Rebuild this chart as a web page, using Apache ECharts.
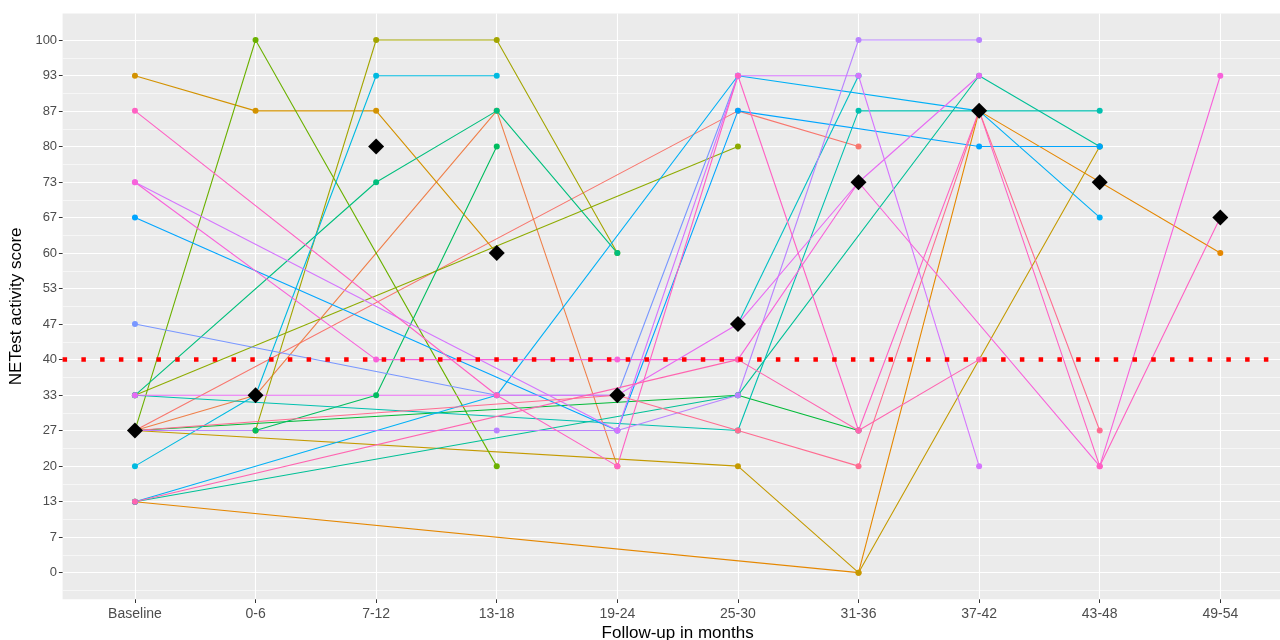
<!DOCTYPE html>
<html>
<head>
<meta charset="utf-8">
<script src="https://cdn.jsdelivr.net/npm/echarts@6/dist/echarts.min.js"></script>
<style>
html,body{margin:0;padding:0;background:#ffffff;}
#chart{width:1280px;height:640px;}
</style>
</head>
<body>
<div id="chart"></div>
<script>
// ---------- data ----------
const categories = ['Baseline','0-6','7-12','13-18','19-24','25-30','31-36','37-42','43-48','49-54'];
const yTickLabels = ['0','7','13','20','27','33','40','47','53','60','67','73','80','87','93','100'];
const medianScores = [26.7, 33.3, 80, 60, 33.3, 46.7, 73.3, 86.7, 73.3, 66.7];
const cutoff = 40;

// one array per patient, one value per follow-up window (null = not measured)
const p01 = [26.7, null, null, null, null, 86.7, 80, null, null, null];
const p02 = [26.7, 33.3, null, 86.7, 20, null, null, null, null, null];
const p03 = [13.3, null, null, null, null, null, 0, 86.7, null, 60];
const p04 = [93.3, 86.7, 86.7, 60, null, null, null, null, null, null];
const p05 = [26.7, null, null, null, null, 20, 0, null, 80, null];
const p06 = [null, 26.7, 100, 100, 60, null, null, null, null, null];
const p07 = [33.3, null, null, null, null, 80, null, null, null, null];
const p08 = [26.7, 100, null, 20, null, null, null, null, null, null];
const p09 = [26.7, null, null, null, null, 33.3, 26.7, null, null, null];
const p10 = [null, 26.7, 33.3, 80, null, null, null, null, null, null];
const p11 = [33.3, null, 73.3, 86.7, 60, null, null, null, null, null];
const p12 = [13.3, null, null, null, null, 33.3, null, 93.3, 80, null];
const p13 = [33.3, null, null, null, null, 26.7, 86.7, 86.7, 86.7, null];
const p14 = [null, null, null, null, null, 46.7, 93.3, null, null, null];
const p15 = [20, 33.3, 93.3, 93.3, null, null, null, null, null, null];
const p16 = [13.3, null, null, 33.3, null, 93.3, null, 86.7, 66.7, null];
const p17 = [66.7, null, null, null, 26.7, 86.7, null, 80, 80, null];
const p18 = [46.7, null, null, 33.3, 33.3, 93.3, null, null, null, null];
const p19 = [26.7, null, null, 26.7, 26.7, 33.3, 100, 100, null, null];
const p20 = [73.3, null, null, null, 26.7, 93.3, 93.3, 20, null, null];
const p21 = [33.3, null, null, null, 33.3, 46.7, 73.3, 93.3, null, null];
const p22 = [73.3, null, 40, null, 40, 40, 73.3, null, 20, 93.3];
const p23 = [86.7, null, null, 33.3, 20, 93.3, 26.7, 86.7, 20, 66.7];
const p24 = [13.3, null, null, null, null, 40, 26.7, 40, null, null];
const p25 = [26.7, null, null, null, 33.3, 26.7, 20, 86.7, 26.7, null];

const patients = [p01,p02,p03,p04,p05,p06,p07,p08,p09,p10,p11,p12,p13,p14,p15,p16,p17,p18,p19,p20,p21,p22,p23,p24,p25];
const patientColors = ['#F8766D','#EF7F49','#E58700','#D39200','#C49A00','#A3A500','#8EAB00','#6BB100','#00BA38','#00BD5F',
  '#00BF7D','#00C097','#00C0AF','#00BFC4','#00BAE0','#00B0F6','#00A5FF','#7997FF','#B983FF','#D575FE',
  '#E76BF3','#F862DA','#FF61C3','#FF64B0','#FF6C91'];

// ---------- chart ----------
const FONT = 'Liberation Sans, Arial, sans-serif';
const xIdx = categories.map((_, i) => i);
const yMajor = yTickLabels.map((_, i) => i * 100 / 15);
const yMinor = [];
for (let i = -1; i < 15; i++) yMinor.push((i + 0.5) * 100 / 15);

const toPairs = arr => arr.map((v, i) => (v === null ? null : [i, v])).filter(d => d !== null);

const series = [];
patients.forEach((p, k) => {
  series.push({
    type: 'line', data: toPairs(p), showSymbol: false, symbol: 'none', silent: true,
    lineStyle: {color: patientColors[k], width: 1.1}, z: 2, animation: false
  });
});
patients.forEach((p, k) => {
  series.push({
    type: 'scatter', data: toPairs(p), symbol: 'circle', symbolSize: 6, silent: true,
    itemStyle: {color: patientColors[k], opacity: 1}, z: 3, animation: false
  });
});
series.push({
  type: 'scatter', data: toPairs(medianScores), symbol: 'diamond', symbolSize: 16, silent: true,
  itemStyle: {color: '#000000', opacity: 1}, z: 6, animation: false,
  markLine: {
    silent: true, symbol: ['none','none'], label: {show: false}, animation: false, z: 5,
    lineStyle: {color: '#FF0000', width: 4.5, type: [4.5, 14.27], cap: 'butt', opacity: 1},
    emphasis: {disabled: true},
    data: [{yAxis: cutoff}]
  }
});

const chart = echarts.init(document.getElementById('chart'), null, {renderer: 'canvas'});
chart.setOption({
  backgroundColor: '#ffffff',
  animation: false,
  grid: {left: 62.6, right: 0, top: 13.4, bottom: 40.7, show: true, backgroundColor: '#EBEBEB', borderWidth: 0,
         containLabel: false, outerBoundsMode: 'none'},
  xAxis: [{
    type: 'value', min: -0.6, max: 9.495,
    axisLine: {show: false, onZero: false},
    axisTick: {show: true, customValues: xIdx, length: 3.7, lineStyle: {color: '#333333', width: 1}},
    axisLabel: {customValues: xIdx, formatter: v => categories[Math.round(v)], color: '#4D4D4D', fontSize: 14, fontFamily: FONT, margin: 8},
    splitLine: {show: true, lineStyle: {color: '#FFFFFF', width: 1.1}}
  }],
  yAxis: [{
    type: 'value', min: -5, max: 105,
    axisLine: {show: false, onZero: false},
    axisTick: {show: true, customValues: yMajor, length: 3.7, lineStyle: {color: '#333333', width: 1}},
    axisLabel: {customValues: yMajor, formatter: v => yTickLabels[Math.round(v * 15 / 100)], color: '#4D4D4D', fontSize: 13, fontFamily: FONT, margin: 5.5},
    splitLine: {show: true, lineStyle: {color: '#FFFFFF', width: 1.1}},
    name: 'NETest activity score', nameLocation: 'middle', nameGap: 32,
    nameTextStyle: {color: '#000000', fontSize: 17, fontFamily: FONT}
  }, {
    type: 'value', min: -5, max: 105, position: 'left',
    axisLine: {show: false, onZero: false},
    axisTick: {show: false, customValues: yMinor},
    axisLabel: {show: false, customValues: yMinor},
    splitLine: {show: true, lineStyle: {color: '#FFFFFF', width: 0.55}}
  }],
  graphic: [{
    type: 'text', x: 677.6, y: 633, silent: true,
    style: {text: 'Follow-up in months', fill: '#000000', font: '17px ' + FONT, textAlign: 'center', textVerticalAlign: 'middle'}
  }],
  series: series
});
</script>
</body>
</html>
